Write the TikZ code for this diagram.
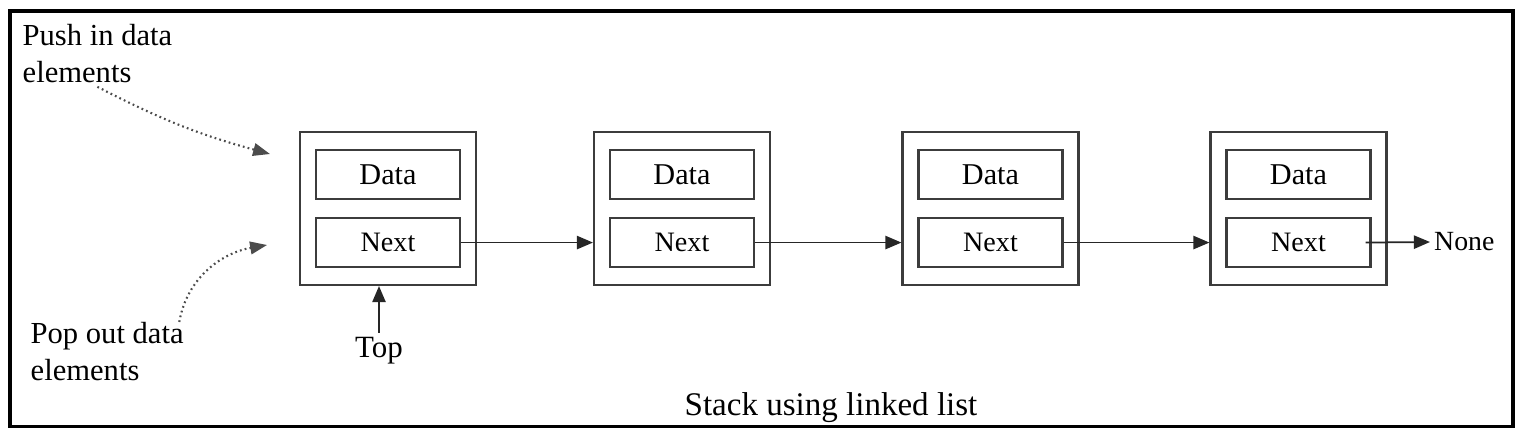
\documentclass[tikz,border=0pt]{standalone}
\usepackage{fontspec}
\setmainfont{Liberation Serif}
\usepackage{tikz}
\usetikzlibrary{arrows.meta, positioning}
\definecolor{boxgray}{RGB}{60, 60, 60}
\tikzset{
  cellbox/.style={draw=boxgray, line width=0.6pt, minimum width=1.76cm, minimum height=1.53cm, inner sep=0pt},
  fieldbox/.style={draw=boxgray, line width=0.6pt, minimum width=1.44cm, minimum height=0.49cm, inner sep=0pt, font=\fontsize{8.6}{10}\selectfont},
  linkarrow/.style={draw=black!85, line width=0.5pt, -{Triangle[length=4.6pt, width=3.8pt]}},
  hintarrow/.style={draw=black!70, line width=0.6pt, dash pattern=on 0.5pt off 0.9pt, -{Triangle[length=4.8pt, width=3.6pt]}},
  notetext/.style={inner sep=0pt, align=left, font=\fontsize{8.7}{10.5}\selectfont}
}

\begin{document}
\begin{tikzpicture}
  \useasboundingbox (0, 0) rectangle (15.23, 4.38);
  % Frame
  \draw[line width=1pt] (0.10, 0.115) rectangle (15.13, 4.27);

  % Stack cells
  \node[cellbox] (c1) at (3.88, 2.295) {};
  \node[cellbox] (c2) at (6.82, 2.295) {};
  \node[cellbox] (c3) at (9.905, 2.295) {};
  \node[cellbox] (c4) at (12.985, 2.295) {};

  \node[fieldbox, above=0.085cm of c1.center] (d1) {Data};
  \node[fieldbox, below=0.085cm of c1.center, font=\fontsize{8}{10}\selectfont] (n1) {Next};
  \node[fieldbox, above=0.085cm of c2.center] (d2) {Data};
  \node[fieldbox, below=0.085cm of c2.center, font=\fontsize{8}{10}\selectfont] (n2) {Next};
  \node[fieldbox, above=0.085cm of c3.center] (d3) {Data};
  \node[fieldbox, below=0.085cm of c3.center, font=\fontsize{8}{10}\selectfont] (n3) {Next};
  \node[fieldbox, above=0.085cm of c4.center] (d4) {Data};
  \node[fieldbox, below=0.085cm of c4.center, font=\fontsize{8}{10}\selectfont] (n4) {Next};

  \node[inner sep=1pt, anchor=west, font=\fontsize{7.9}{10}\selectfont] (none) at (14.30, 1.96) {None};

  % Links
  \draw[linkarrow] (n1.east) -- (c2.west |- n1.east);
  \draw[linkarrow] (n2.east) -- (c3.west |- n2.east);
  \draw[linkarrow] (n3.east) -- (c4.west |- n3.east);
  \draw[linkarrow] ([xshift=-0.06cm]n4.east) -- (none.west);

  % Top pointer
  \node[inner sep=1pt, anchor=base, font=\fontsize{8.8}{10}\selectfont] (top) at (3.79, 0.81) {Top};
  \draw[linkarrow] (top.north) -- (top.north |- c1.south);

  % Push / pop notes
  \node[notetext, anchor=north west] (push) at (0.22, 4.14) {Push in data\\elements};
  \node[notetext, anchor=north west] (pop) at (0.30, 1.16) {Pop out data\\elements};
  \coordinate (pushin) at (2.70, 2.84);
  \coordinate (popout) at (2.67, 1.93);
  \draw[hintarrow] ([yshift=-0.03cm]push.south) to[bend right=6] (pushin);
  \draw[hintarrow] ([xshift=-0.05cm]pop.north east) to[out=80, in=190] (popout);

  % Caption
  \node[inner sep=0pt, anchor=base, font=\fontsize{9.4}{11}\selectfont] (caption) at (8.31, 0.23) {Stack using linked list};
\end{tikzpicture}
\end{document}
